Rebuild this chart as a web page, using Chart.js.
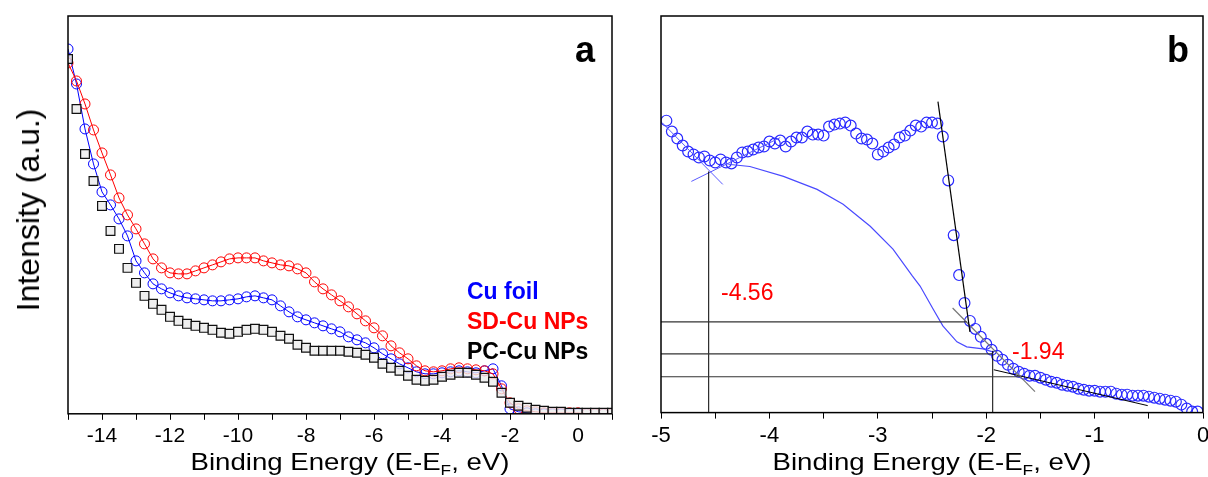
<!DOCTYPE html>
<html>
<head>
<meta charset="utf-8">
<script src="https://cdn.jsdelivr.net/npm/chart.js@4.4.0/dist/chart.umd.min.js"></script>
<style>
body{margin:0;width:1208px;height:477px;overflow:hidden;background:#fff;position:relative;font-family:"Liberation Sans",Arial,sans-serif}
canvas{position:absolute;top:0}
#chartA{left:0}
#chartB{left:630px}
.txt{position:absolute;white-space:nowrap;line-height:1}
.sub{font-size:15px;position:relative;top:5px}
</style>
</head>
<body>
<canvas id="chartA" width="630" height="477"></canvas>
<canvas id="chartB" width="600" height="477"></canvas>

<div class="txt" style="left:28px;top:210px;font-size:32px;transform:translate(-50%,-50%) rotate(-90deg)">Intensity (a.u.)</div>
<div class="txt" style="left:350px;top:450px;font-size:24px;transform:translateX(-50%) scaleX(1.15)">Binding Energy (E-E<span class="sub">F</span>, eV)</div>
<div class="txt" style="left:932px;top:450px;font-size:24px;transform:translateX(-50%) scaleX(1.15)">Binding Energy (E-E<span class="sub">F</span>, eV)</div>
<div class="txt" style="left:575px;top:32px;font-size:36px;font-weight:bold">a</div>
<div class="txt" style="left:1167px;top:32px;font-size:36px;font-weight:bold">b</div>
<div class="txt" style="left:467px;top:280px;font-size:23px;font-weight:bold;color:#0000ff">Cu foil</div>
<div class="txt" style="left:467px;top:310px;font-size:23px;font-weight:bold;color:#ff0000">SD-Cu NPs</div>
<div class="txt" style="left:467px;top:340px;font-size:23px;font-weight:bold;color:#000">PC-Cu NPs</div>
<div class="txt" style="left:721px;top:281px;font-size:23px;color:#ff0000">-4.56</div>
<div class="txt" style="left:1012px;top:340px;font-size:23px;color:#ff0000">-1.94</div>

<script>
// panel a: valence band spectra
var energyA = [-15,-14.75,-14.5,-14.25,-14,-13.75,-13.5,-13.25,-13,-12.75,-12.5,-12.25,-12,-11.75,-11.5,-11.25,
  -11,-10.75,-10.5,-10.25,-10,-9.75,-9.5,-9.25,-9,-8.75,-8.5,-8.25,-8,-7.75,-7.5,-7.25,
  -7,-6.75,-6.5,-6.25,-6,-5.75,-5.5,-5.25,-5,-4.75,-4.5,-4.25,-4,-3.75,-3.5,-3.25,
  -3,-2.75,-2.5,-2.25,-2,-1.75,-1.5,-1.25,-1,-0.75,-0.5,-0.25,0,0.25,0.5,0.75,1];
var cuFoil = [365,330,285,250,222,209,195,178,153,141,130,125,121,118,116,115,
  114,113,113,114,115,117,118,116,114,108,102,97,94,91,88,85,
  82,77,74,71,66,60,55,50,46,42,40,40,41,42,43,42,
  41,43,45,28,5,2,1,0,0,0,0,0,0,0,0,0,0];
var sdCu = [351,333,310,284,261,239,216,199,185,170,155,146,141,140,140,143,
  146,149,152,155,156,156,156,153,151,149,148,145,141,132,125,119,
  113,107,100,93,86,78,68,61,55,48,43,42,43,45,46,45,
  44,43,40,25,11,5,3,2,1,1,1,1,1,0,0,0,0];
var pcCu = [355,305,260,233,208,183,165,146,131,118,110,104,97,93,90,88,
  86,84,81,80,82,84,85,84,82,78,75,69,66,63,63,63,
  63,62,61,59,56,50,46,43,38,34,33,34,37,39,41,41,
  39,36,32,21,11,8,6,4,3,2,2,1,1,1,1,1,1];

// panel b: Cu foil near the Fermi edge
var energyB = [-4.95,-4.9,-4.85,-4.8,-4.75,-4.7,-4.65,-4.6,-4.55,-4.5,
  -4.45,-4.4,-4.35,-4.3,-4.25,-4.2,-4.15,-4.1,-4.05,-4,
  -3.95,-3.9,-3.85,-3.8,-3.75,-3.7,-3.65,-3.6,-3.55,-3.5,
  -3.45,-3.4,-3.35,-3.3,-3.25,-3.2,-3.15,-3.1,-3.05,-3,
  -2.95,-2.9,-2.85,-2.8,-2.75,-2.7,-2.65,-2.6,-2.55,-2.5,
  -2.45,-2.4,-2.35,-2.3,-2.25,-2.2,-2.15,-2.1,-2.05,-2,
  -1.95,-1.9,-1.85,-1.8,-1.75,-1.7,-1.65,-1.6,-1.55,-1.5,
  -1.45,-1.4,-1.35,-1.3,-1.25,-1.2,-1.15,-1.1,-1.05,-1,
  -0.95,-0.9,-0.85,-0.8,-0.75,-0.7,-0.65,-0.6,-0.55,-0.5,
  -0.45,-0.4,-0.35,-0.3,-0.25,-0.2,-0.15,-0.1,-0.05];
var foilB = [293,282,275,268,262,259,256,257,253,251,
  254,251,250,256,261,262,264,266,267,272,
  270,273,267,272,276,276,282,279,279,278,
  287,289,290,291,288,280,275,274,270,259,
  262,266,269,276,278,283,288,287,291,291,
  290,277,233,178,138,110,92,84,76,69,
  63,57,53,48,44,41,39,37,37,35,
  33,31,30,28,27,26,24,23,22,22,
  21,21,21,19,18,18,17,17,17,16,
  15,14,13,12,11,8,4,1,1];
var bgE = [-4.40,-4.36,-4.18,-3.87,-3.56,-3.32,-3.07,-2.86,-2.68,-2.61,-2.49,-2.40,-2.27,-2.18,-2.03,-1.94];
var bgI = [250,249,247,237,224,209,187,164,137,127,104,87,71,66,64,61];

// construction lines [energy, intensity]
var vLine456 = [[-4.56,0],[-4.56,242]];
var vLine194 = [[-1.94,0],[-1.94,62]];
var hLine1 = [[-5,91],[-2.18,91]];
var hLine2 = [[-5,59],[-1.94,59]];
var hLine3 = [[-5,36],[-1.69,36]];
var fitSteep = [[-2.445,312],[-2.15,81]];
var fitMid = [[-2.31,105],[-1.55,21]];
var fitTail = [[-1.93,43],[-0.51,7]];
var fitLeftDown = [[-4.99,291],[-4.43,229]];
var fitLeftUp = [[-4.72,232],[-3.90,276]];

var fontName = '"Liberation Sans", Arial, sans-serif';

function pts(xs, ys) {
  return xs.map(function(x, i){ return {x: x, y: ys[i]}; });
}
function seg(p) {
  return p.map(function(q){ return {x: q[0], y: q[1]}; });
}

var framePlugin = {
  id: 'frame',
  afterDatasetsDraw: function(chart) {
    var a = chart.chartArea, ctx = chart.ctx;
    ctx.save();
    ctx.strokeStyle = '#000';
    ctx.lineWidth = 1.5;
    ctx.strokeRect(a.left, a.top, a.right - a.left, a.bottom - a.top);
    ctx.restore();
  }
};

function xAxis(min, max, step, size, cb) {
  return {
    type: 'linear', min: min, max: max,
    ticks: {stepSize: step, autoSkip: false, maxRotation: 0, color: '#000', padding: 4,
      font: {family: fontName, size: size}, callback: cb},
    grid: {drawOnChartArea: false, drawTicks: true, tickLength: 6, color: '#000', lineWidth: 1},
    border: {display: false}
  };
}

new Chart(document.getElementById('chartA'), {
  type: 'scatter',
  data: {
    datasets: [
      {label: 'PC-Cu NPs', data: pts(energyA, pcCu), showLine: false, pointStyle: 'rect', pointRadius: 6.2,
        pointBorderColor: '#111', pointBackgroundColor: 'rgba(235,235,235,0.8)', pointBorderWidth: 1.2, order: 0},
      {label: 'SD-Cu NPs', data: pts(energyA, sdCu), showLine: true, borderColor: '#ff0000', borderWidth: 1,
        pointRadius: 5, pointBorderColor: '#ff0000', pointBackgroundColor: 'rgba(0,0,0,0)', pointBorderWidth: 1, order: 1},
      {label: 'Cu foil', data: pts(energyA, cuFoil), showLine: true, borderColor: '#0000ff', borderWidth: 1,
        pointRadius: 5, pointBorderColor: '#0000ff', pointBackgroundColor: 'rgba(0,0,0,0)', pointBorderWidth: 1, order: 2}
    ]
  },
  options: {
    responsive: false, animation: false,
    layout: {padding: {left: 68, right: 18, top: 16, bottom: 24}},
    plugins: {legend: {display: false}, tooltip: {enabled: false}},
    scales: {
      x: xAxis(-15, 1, 1, 21, function(v){ return v % 2 === 0 ? String(v) : ''; }),
      y: {display: false, min: 0, max: 398}
    }
  },
  plugins: [framePlugin]
});

function lineSet(p, color, width) {
  return {data: seg(p), showLine: true, borderColor: color, borderWidth: width, pointRadius: 0, order: 0};
}

new Chart(document.getElementById('chartB'), {
  type: 'scatter',
  data: {
    datasets: [
      lineSet(hLine1, '#333', 1.2),
      lineSet(hLine2, '#333', 1.2),
      lineSet(hLine3, '#333', 1.2),
      lineSet(vLine456, '#000', 1),
      lineSet(vLine194, '#000', 1),
      lineSet(fitSteep, '#000', 1.2),
      lineSet(fitMid, '#777', 1.2),
      lineSet(fitTail, '#000', 1),
      lineSet(fitLeftDown, '#5a5aff', 1),
      lineSet(fitLeftUp, '#5a5aff', 1),
      {data: pts(bgE, bgI), showLine: true, borderColor: '#4a4aff', borderWidth: 1.2, pointRadius: 0, order: 1},
      {label: 'Cu foil', data: pts(energyB, foilB), showLine: false, pointRadius: 5.4,
        pointBorderColor: '#2a2aff', pointBackgroundColor: 'rgba(0,0,0,0)', pointBorderWidth: 1.2, order: 5}
    ]
  },
  options: {
    responsive: false, animation: false,
    layout: {padding: {left: 31, right: 27, top: 16, bottom: 24}},
    plugins: {legend: {display: false}, tooltip: {enabled: false}},
    scales: {
      x: xAxis(-5, 0, 0.5, 22, function(v){
        var r = Math.round(v);
        return Math.abs(v - r) < 1e-9 ? String(r) : '';
      }),
      y: {display: false, min: 0, max: 398}
    }
  },
  plugins: [framePlugin]
});
</script>
</body>
</html>
